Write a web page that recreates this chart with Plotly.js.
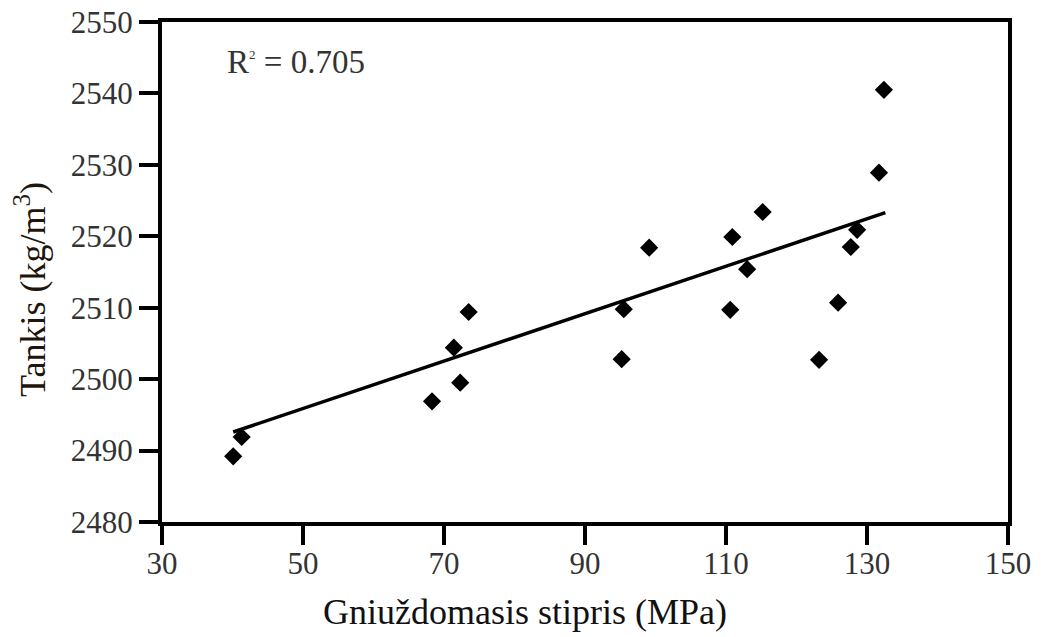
<!DOCTYPE html>
<html>
<head>
<meta charset="utf-8">
<script src="https://cdn.plot.ly/plotly-3.0.1.min.js"></script>
<style>html,body{margin:0;padding:0;background:#fff;}#chart{width:1045px;height:637px;}</style>
</head>
<body>
<div id="chart"></div>
<script>
// Data
const strength = [40.1, 41.3, 68.3, 71.4, 72.3, 73.5, 95.2, 95.5, 99.1, 110.6, 110.9, 113.0, 115.2, 123.2, 125.9, 127.7, 128.6, 131.7, 132.4];
const density  = [2489.2, 2491.9, 2496.9, 2504.4, 2499.5, 2509.4, 2502.8, 2509.8, 2518.4, 2509.7, 2519.9, 2515.4, 2523.4, 2502.7, 2510.7, 2518.5, 2520.9, 2528.9, 2540.5];
const trendX = [40.1, 132.6];
const trendY = [2492.6, 2523.3];
const xTicks = [30, 50, 70, 90, 110, 130, 150];
const yTicks = [2480, 2490, 2500, 2510, 2520, 2530, 2540, 2550];
const r2Label = 'R<sup><span style="font-size:13px">2</span></sup> = 0.705';
const xTitle = 'Gniuždomasis stipris (MPa)';
const yTitle = 'Tankis (kg/m<sup>3</sup>)';

const font = 'Liberation Serif';

const traces = [
  {
    x: strength, y: density, type: 'scatter', mode: 'markers',
    marker: {symbol: 'diamond', size: 14, color: '#000'},
    showlegend: false, hoverinfo: 'x+y'
  },
  {
    x: trendX, y: trendY, type: 'scatter', mode: 'lines',
    line: {color: '#000', width: 3.5},
    showlegend: false, hoverinfo: 'skip'
  }
];

const layout = {
  width: 1045, height: 637,
  margin: {l: 162, r: 37, t: 22, b: 115},
  paper_bgcolor: '#fff', plot_bgcolor: '#fff',
  font: {family: font, color: '#000'},
  xaxis: {
    range: [30, 150], tickvals: xTicks, ticktext: xTicks.map(String),
    showgrid: false, zeroline: false,
    showline: true, linecolor: '#000', linewidth: 4, mirror: true,
    ticks: 'outside', ticklen: 19, tickwidth: 4, tickcolor: '#000',
    ticklabelstandoff: -8,
    tickfont: {family: font, size: 31, color: '#333'}
  },
  yaxis: {
    range: [2480, 2550], tickvals: yTicks, ticktext: yTicks.map(String),
    showgrid: false, zeroline: false,
    showline: true, linecolor: '#000', linewidth: 4, mirror: true,
    ticks: 'outside', ticklen: 19, tickwidth: 4, tickcolor: '#000',
    tickfont: {family: font, size: 31, color: '#333'}
  },
  annotations: [
    {
      xref: 'paper', yref: 'paper', x: 0.075, y: 0.92, xanchor: 'left', yanchor: 'middle',
      text: r2Label, showarrow: false,
      font: {family: font, size: 33, color: '#333'}
    },
    {
      xref: 'paper', yref: 'paper', x: 0.429, y: -0.18, xanchor: 'center', yanchor: 'middle',
      text: xTitle, showarrow: false,
      font: {family: font, size: 36, color: '#111'}
    },
    {
      xref: 'paper', yref: 'paper', x: -0.156, y: 0.464, xanchor: 'center', yanchor: 'middle',
      text: yTitle, showarrow: false, textangle: -90,
      font: {family: font, size: 36, color: '#1f150b'}
    }
  ]
};

Plotly.newPlot('chart', traces, layout, {displayModeBar: false, staticPlot: true});
</script>
</body>
</html>
